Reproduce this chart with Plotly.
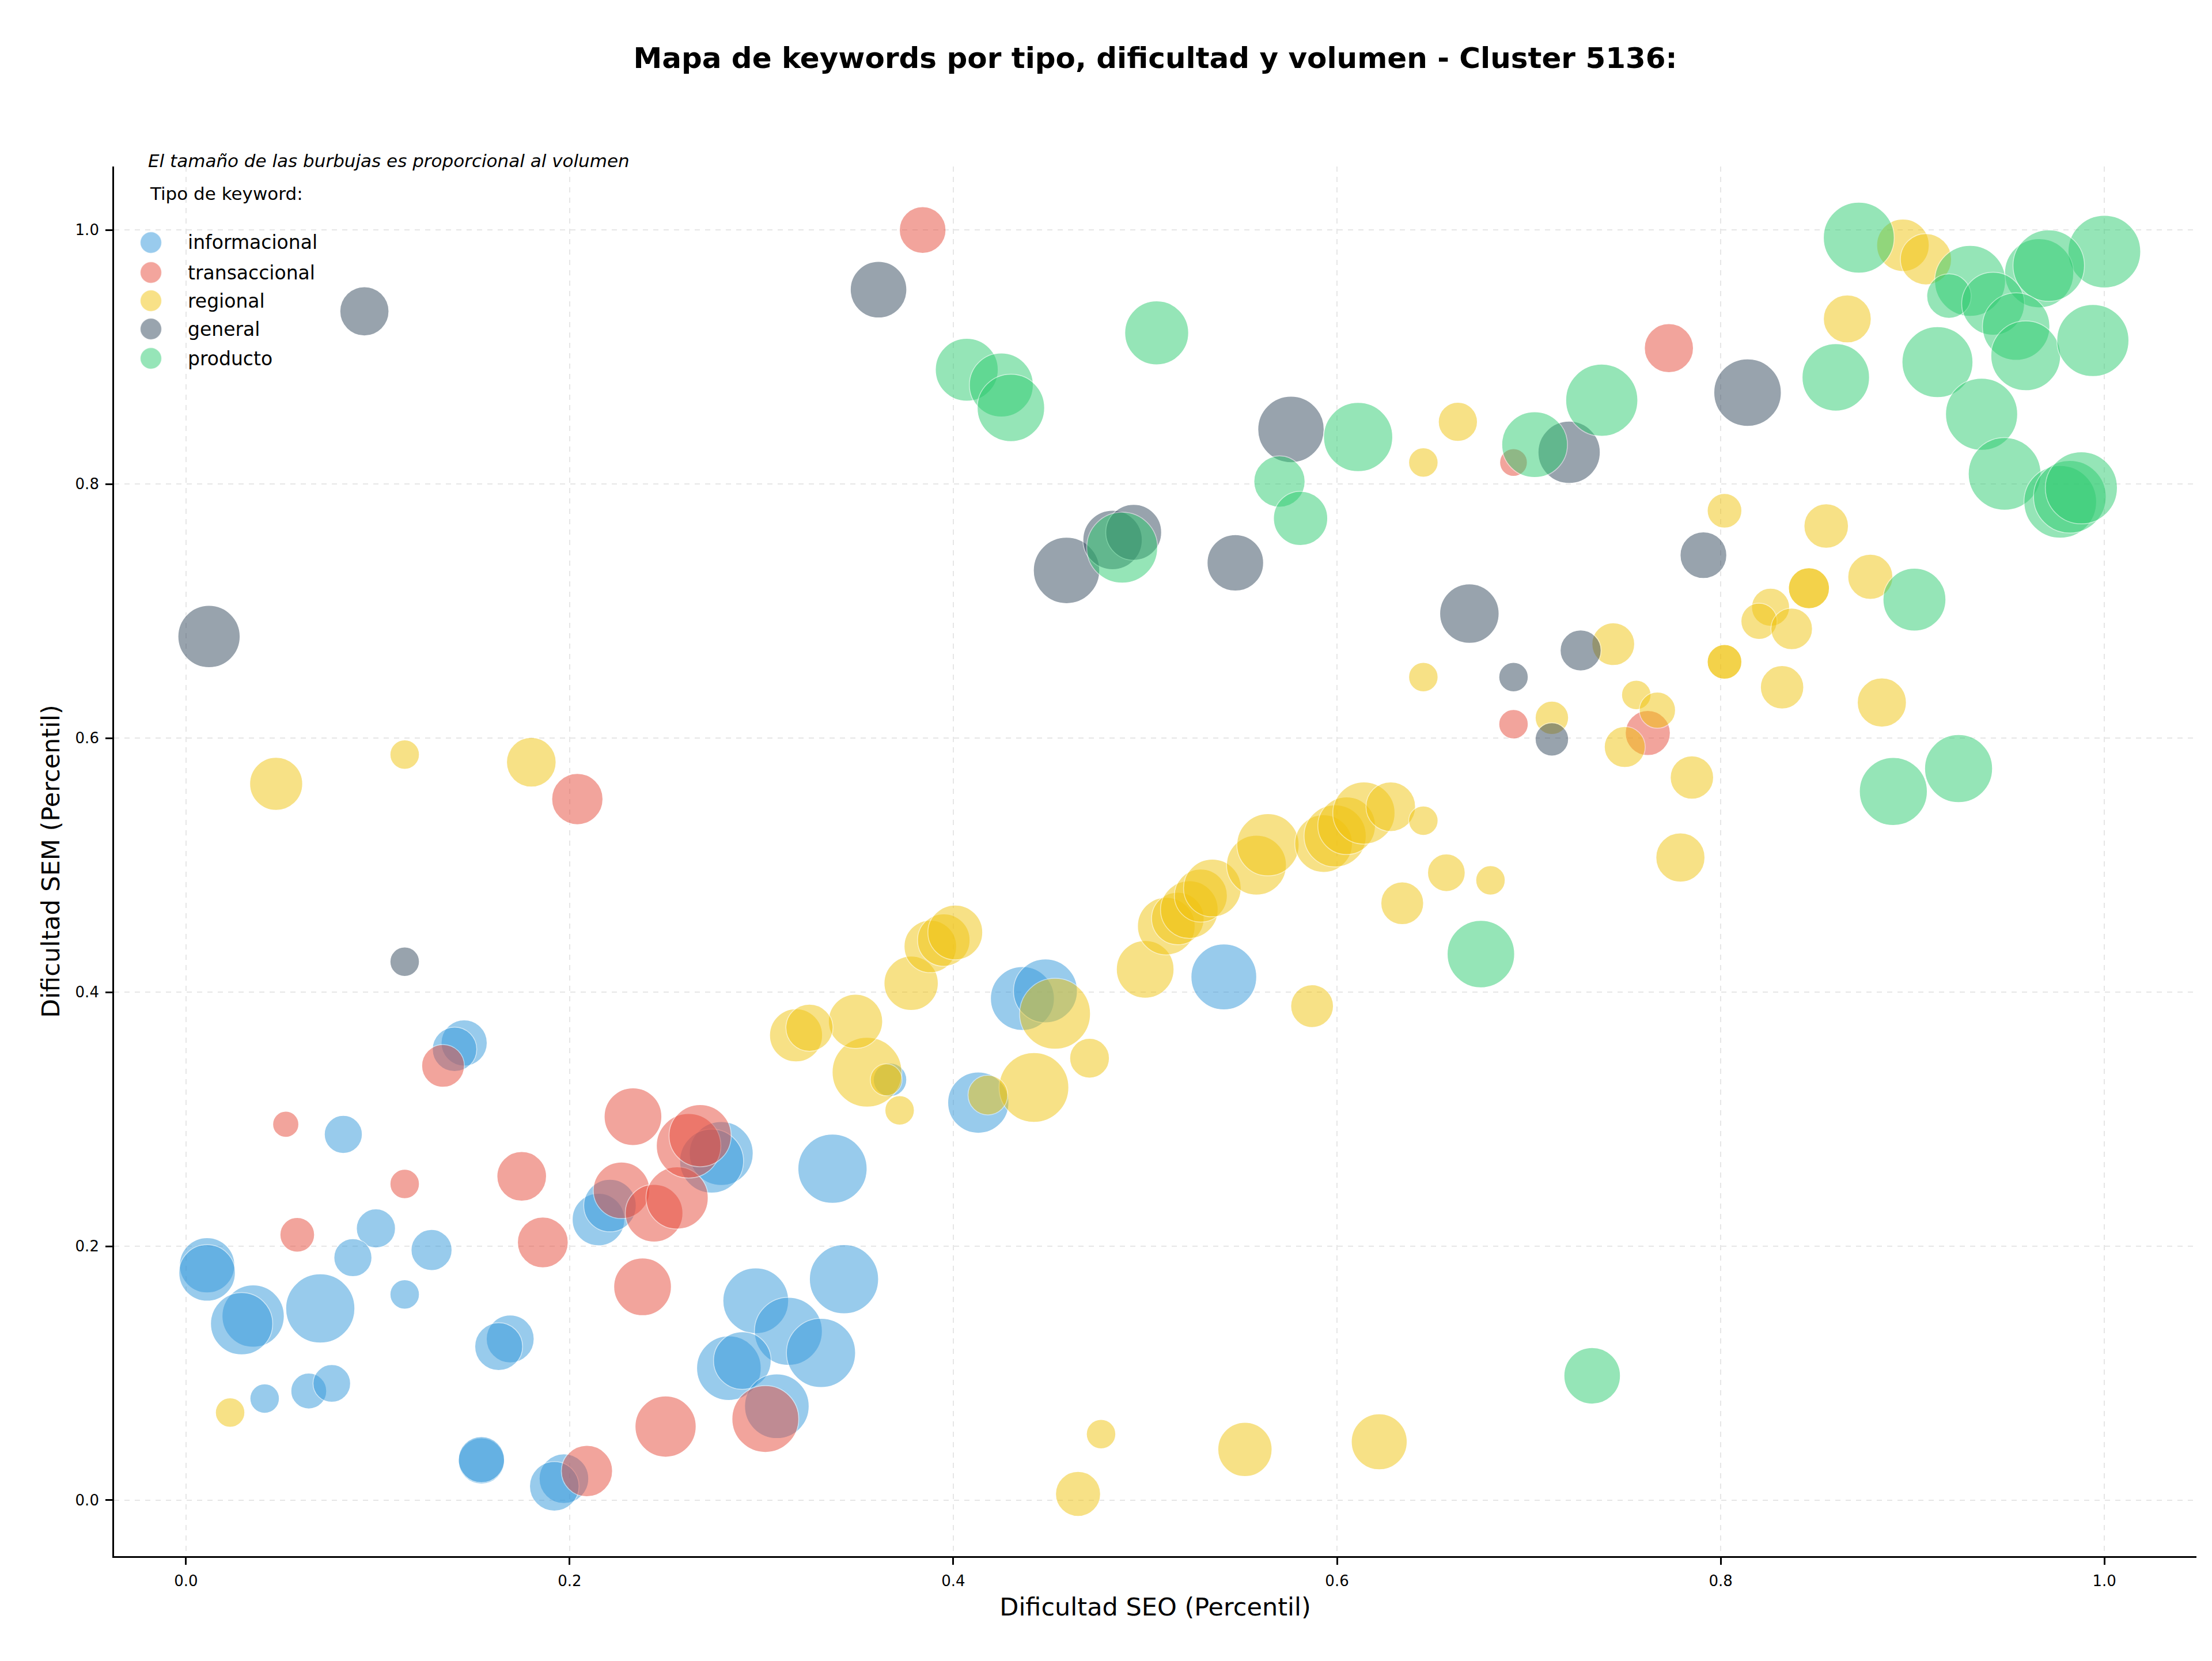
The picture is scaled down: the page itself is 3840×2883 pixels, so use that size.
import plotly.graph_objects as go

# ---------------- data ----------------
tipos = ["informacional", "transaccional", "regional", "general", "producto"]
colores = ["#3498db", "#e74c3c", "#f1c40f", "#34495e", "#2ecc71"]

info_seo = [0.011, 0.011, 0.035, 0.029, 0.070, 0.082, 0.099, 0.087, 0.128, 0.114, 0.041, 0.064, 0.076,
            0.145, 0.140, 0.169, 0.163, 0.154, 0.154, 0.197, 0.192, 0.215, 0.221, 0.279, 0.274, 0.297,
            0.314, 0.283, 0.290, 0.308, 0.337, 0.343, 0.331, 0.436, 0.448, 0.541, 0.413, 0.367]
info_sem = [0.185, 0.179, 0.145, 0.139, 0.151, 0.288, 0.214, 0.191, 0.197, 0.162, 0.080, 0.086, 0.092,
            0.360, 0.355, 0.127, 0.121, 0.031, 0.032, 0.017, 0.011, 0.221, 0.232, 0.273, 0.267, 0.157,
            0.133, 0.104, 0.110, 0.074, 0.261, 0.174, 0.116, 0.395, 0.401, 0.412, 0.313, 0.331]
info_vol = [1840, 1920, 2330, 2330, 2880, 870, 920, 870, 1010, 520, 520, 770, 850,
            1280, 1190, 1380, 1380, 1280, 1280, 1480, 1480, 1660, 1660, 2460, 2460, 2600,
            2780, 2510, 2000, 2510, 2880, 2880, 2880, 2460, 2460, 2600, 2250, 670]

trans_seo = [0.052, 0.114, 0.058, 0.134, 0.175, 0.186, 0.233, 0.227, 0.238, 0.244, 0.256, 0.262, 0.268,
             0.250, 0.209, 0.302, 0.384, 0.204, 0.773, 0.692, 0.692, 0.762]
trans_sem = [0.296, 0.249, 0.209, 0.342, 0.255, 0.203, 0.302, 0.244, 0.168, 0.226, 0.238, 0.279, 0.287,
             0.058, 0.023, 0.064, 1.000, 0.552, 0.907, 0.817, 0.611, 0.604]
trans_vol = [410, 520, 720, 1100, 1480, 1550, 2000, 1920, 2000, 2000, 2330, 2510, 2330,
             2250, 1580, 2690, 1310, 1580, 1450, 460, 520, 1220]

reg_seo = [0.047, 0.114, 0.180, 0.023, 0.465, 0.477, 0.552, 0.622, 0.442, 0.471, 0.453, 0.355, 0.372,
           0.349, 0.318, 0.325, 0.378, 0.388, 0.395, 0.401, 0.500, 0.511, 0.517, 0.523, 0.529, 0.535,
           0.558, 0.564, 0.593, 0.599, 0.605, 0.614, 0.628, 0.645, 0.587, 0.634, 0.657, 0.680, 0.645,
           0.645, 0.663, 0.779, 0.785, 0.750, 0.712, 0.756, 0.767, 0.744, 0.895, 0.907, 0.866, 0.802,
           0.855, 0.878, 0.846, 0.846, 0.826, 0.820, 0.837, 0.802, 0.802, 0.832, 0.884, 0.418, 0.365]
reg_sem = [0.564, 0.587, 0.581, 0.069, 0.005, 0.052, 0.040, 0.046, 0.325, 0.348, 0.383, 0.337, 0.307,
           0.377, 0.366, 0.372, 0.407, 0.436, 0.441, 0.447, 0.418, 0.452, 0.458, 0.465, 0.476, 0.482,
           0.500, 0.516, 0.517, 0.523, 0.531, 0.541, 0.546, 0.535, 0.389, 0.470, 0.494, 0.488, 0.648,
           0.817, 0.849, 0.506, 0.569, 0.593, 0.616, 0.634, 0.622, 0.674, 0.988, 0.977, 0.930, 0.779,
           0.767, 0.727, 0.718, 0.718, 0.703, 0.692, 0.686, 0.660, 0.660, 0.640, 0.628, 0.319, 0.331]
reg_vol = [1690, 520, 1480, 520, 1220, 520, 1770, 1880, 2930, 950, 3030, 2930, 520,
           1770, 1690, 1340, 1770, 1660, 1660, 1810, 2000, 2000, 1660, 2000, 1690, 2000,
           2160, 2330, 2000, 2330, 2000, 2330, 1480, 520, 1100, 1100, 850, 520, 520,
           520, 920, 1450, 1130, 1010, 670, 520, 790, 1100, 1660, 1580, 1380, 720,
           1190, 1220, 1010, 1010, 870, 790, 1040, 720, 720, 1130, 1450, 950, 610]

gen_seo = [0.093, 0.012, 0.114, 0.361, 0.576, 0.459, 0.483, 0.494, 0.547, 0.669, 0.814, 0.721, 0.791,
           0.727, 0.692, 0.712]
gen_sem = [0.936, 0.680, 0.424, 0.953, 0.843, 0.732, 0.756, 0.762, 0.738, 0.698, 0.872, 0.825, 0.744,
           0.669, 0.648, 0.599]
gen_vol = [1450, 2330, 520, 1920, 2650, 2650, 2120, 1880, 1920, 2120, 2740, 2330, 1310,
           1010, 520, 670]

prod_seo = [0.407, 0.425, 0.430, 0.506, 0.611, 0.570, 0.581, 0.488, 0.703, 0.738, 0.860, 0.872, 1.000,
            0.966, 0.971, 0.930, 0.919, 0.942, 0.954, 0.959, 0.913, 0.994, 0.936, 0.948, 0.977, 0.982,
            0.988, 0.901, 0.890, 0.924, 0.675, 0.733]
prod_sem = [0.890, 0.878, 0.860, 0.919, 0.837, 0.802, 0.773, 0.750, 0.831, 0.866, 0.884, 0.994, 0.983,
            0.966, 0.972, 0.960, 0.948, 0.942, 0.924, 0.901, 0.896, 0.913, 0.855, 0.808, 0.786, 0.790,
            0.797, 0.709, 0.558, 0.576, 0.430, 0.098]
prod_vol = [2380, 2460, 2740, 2460, 2880, 1580, 1770, 3030, 2600, 3130, 2740, 3030, 3180,
            2880, 3080, 3030, 1190, 2380, 2740, 2930, 3030, 3130, 3130, 3180, 3180, 3180,
            3130, 2380, 2780, 2780, 2740, 1920]

x_ticks = [0.0, 0.2, 0.4, 0.6, 0.8, 1.0]
y_ticks = [0.0, 0.2, 0.4, 0.6, 0.8, 1.0]

# ---------------- figure ----------------
W, H = 3840, 2883
ML, MR, MT, MB = 198, 27, 289, 182
PW, PH = W - ML - MR, H - MT - MB
FONT = "DejaVu Sans"

series = [
    (info_seo, info_sem, info_vol),
    (trans_seo, trans_sem, trans_vol),
    (reg_seo, reg_sem, reg_vol),
    (gen_seo, gen_sem, gen_vol),
    (prod_seo, prod_sem, prod_vol),
]

fig = go.Figure()
for name, col, (xs, ys, vs) in zip(tipos, colores, series):
    fig.add_trace(go.Scatter(
        x=xs, y=ys, mode="markers", name=name, showlegend=False,
        marker=dict(size=vs, sizemode="area", sizeref=0.4, color=col, opacity=0.5,
                    line=dict(color="white", width=1.5)),
    ))


def hex_rgba(h, a):
    h = h.lstrip("#")
    return f"rgba({int(h[0:2],16)},{int(h[2:4],16)},{int(h[4:6],16)},{a})"


def px_x(p):
    return (p - ML) / PW


def px_y(p):
    return (H - MB - p) / PH


shapes = []
annotations = []
# custom legend (large glyphs like the reference)
leg_y = [421, 473, 522, 571, 622]
for i, (name, col) in enumerate(zip(tipos, colores)):
    shapes.append(dict(type="circle", xref="paper", yref="paper", xsizemode="pixel", ysizemode="pixel",
                       xanchor=px_x(262), yanchor=px_y(leg_y[i]), x0=-18.5, x1=18.5, y0=-18.5, y1=18.5,
                       fillcolor=hex_rgba(col, 0.5), line=dict(color="rgba(255,255,255,0.5)", width=1.5),
                       layer="above"))
    annotations.append(dict(text=name, xref="paper", yref="paper", x=px_x(324), y=px_y(leg_y[i]),
                            xanchor="left", yanchor="middle", showarrow=False,
                            font=dict(family=FONT, size=33, color="black")))

annotations.append(dict(text="<i>El tamaño de las burbujas es proporcional al volumen</i>",
                        xref="paper", yref="paper", x=px_x(255), y=px_y(279), xanchor="left",
                        yanchor="middle", showarrow=False, font=dict(family=FONT, size=31, color="black")))
annotations.append(dict(text="Tipo de keyword:", xref="paper", yref="paper", x=px_x(258), y=px_y(336),
                        xanchor="left", yanchor="middle", showarrow=False,
                        font=dict(family=FONT, size=31, color="black")))

axis_common = dict(
    showgrid=True, gridcolor="#e6e6e6", griddash="dash", gridwidth=2,
    zeroline=False, showline=True, linecolor="black", linewidth=2.7, mirror=False,
    ticks="outside", ticklen=12, tickwidth=2.7, tickcolor="black",
    tickfont=dict(family=FONT, size=26, color="black"), tickformat=".1f",
    ticklabelstandoff=6,
)

fig.update_layout(
    width=W, height=H,
    margin=dict(l=ML, r=MR, t=MT, b=MB, autoexpand=False),
    paper_bgcolor="white", plot_bgcolor="white",
    font=dict(family=FONT, color="black"),
    title=dict(text="<b>Mapa de keywords por tipo, dificultad y volumen - Cluster 5136:</b>",
               x=0.5, xref="paper", xanchor="center", y=1 - 100 / H, yref="container", yanchor="middle",
               font=dict(family=FONT, size=50, color="black")),
    xaxis=dict(range=[-0.0375, 1.048], tickvals=x_ticks,
               title=dict(text="Dificultad SEO (Percentil)", standoff=16,
                          font=dict(family=FONT, size=43, color="black")),
               **axis_common),
    yaxis=dict(range=[-0.044, 1.05], tickvals=y_ticks,
               title=dict(text="Dificultad SEM (Percentil)", standoff=14,
                          font=dict(family=FONT, size=43, color="black")),
               **axis_common),
    shapes=shapes, annotations=annotations, showlegend=False,
)

fig.write_html("out.html")
